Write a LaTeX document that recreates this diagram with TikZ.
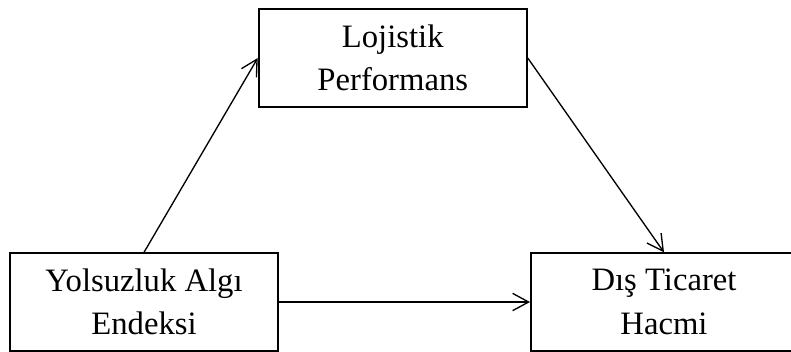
\documentclass[tikz,border=0pt]{standalone}
\usepackage{fontspec}
\setmainfont{Liberation Serif}
\usetikzlibrary{arrows.meta}
\begin{document}
\begin{tikzpicture}[x=0.75pt,y=-0.75pt,
  varbox/.style={draw=black,line width=1.5pt,fill=white,inner sep=0pt,
    minimum width=201pt,minimum height=73pt,align=center,
    font=\fontsize{24.5}{32.5}\selectfont},
  link/.style={draw=black,line width=1pt,
    -{Straight Barb[length=12pt,width=13pt,line width=1pt]}}]
\useasboundingbox (0,0) rectangle (791,351);
\node[varbox] (lp) at (392.75,58) {Lojistik\\Performans};
\node[varbox] (yae) at (144,302) {Yolsuzluk Algı\\Endeksi};
\node[varbox,minimum width=199.5pt] (dth) at (664,302) {Dış Ticaret\\Hacmi};
\draw[link] (yae.north) -- (lp.west);
\draw[link] (lp.east) -- (dth.north);
\draw[link] (yae.east) -- (dth.west);
\end{tikzpicture}
\end{document}
